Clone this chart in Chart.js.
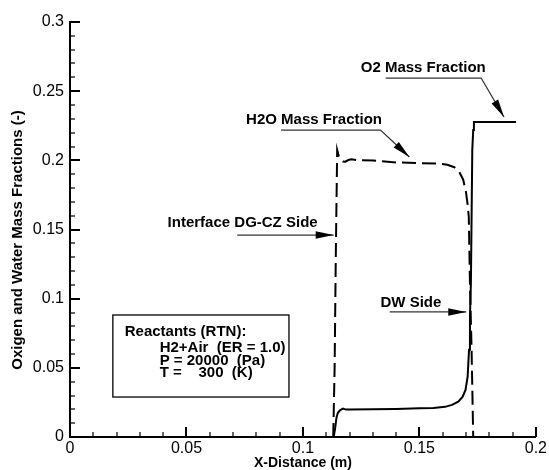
<!DOCTYPE html>
<html><head><meta charset="utf-8">
<script src="https://cdn.jsdelivr.net/npm/chart.js@4"></script>
<style>html,body{margin:0;padding:0;background:#fff}</style>
</head><body>
<canvas id="c" width="549" height="470"></canvas>
<script>
// ---- data ----
const xTickLabels = [0, 0.05, 0.1, 0.15, 0.2];
const yTickLabels = [0, 0.05, 0.1, 0.15, 0.2, 0.25, 0.3];

const o2X = [0.1132, 0.1138, 0.1144, 0.1150, 0.1160, 0.1172, 0.1185, 0.1200, 0.1300, 0.1400, 0.1500, 0.1560, 0.1610, 0.1640, 0.1667, 0.1685, 0.1698, 0.1707, 0.1713, 0.1717, 0.1721, 0.1724, 0.1727, 0.1731, 0.1734, 0.1800, 0.1915];
const o2Y = [0.0000, 0.0060, 0.0140, 0.0175, 0.0195, 0.0206, 0.0198, 0.0199, 0.0201, 0.0203, 0.0207, 0.0210, 0.0218, 0.0232, 0.0255, 0.0290, 0.0340, 0.0436, 0.0630, 0.0870, 0.1110, 0.1590, 0.2075, 0.2220, 0.2278, 0.2278, 0.2278];

const h2oX = [0.1130, 0.1136, 0.1141, 0.1147, 0.1154, 0.1163, 0.1172, 0.1182, 0.1195, 0.1208, 0.1232, 0.1303, 0.1400, 0.1500, 0.1580, 0.1620, 0.1650, 0.1670, 0.1688, 0.1700, 0.1707, 0.1712, 0.1717, 0.1724, 0.1731];
const h2oY = [0.0000, 0.0500, 0.1300, 0.2075, 0.2030, 0.2005, 0.1992, 0.1990, 0.2002, 0.2008, 0.2002, 0.1998, 0.1985, 0.1980, 0.1976, 0.1968, 0.1950, 0.1920, 0.1860, 0.1770, 0.1680, 0.1590, 0.1110, 0.0630, 0.0000];

const xTitle = 'X-Distance (m)';
const yTitle = 'Oxigen and Water Mass Fractions (-)';

const labelTexts = ['O2 Mass Fraction', 'H2O Mass Fraction', 'Interface DG-CZ Side', 'DW Side'];
const boxLines = ['Reactants (RTN):', 'H2+Air  (ER = 1.0)', 'P = 20000  (Pa)', 'T =    300  (K)'];

// ---- annotation placement (data units) ----
const labelPos = [[0.1248, 0.2667], [0.0756, 0.2292], [0.0419, 0.1547], [0.1333, 0.0969]];
const arrowPaths = [
  [[0.1355, 0.2595], [0.1765, 0.2595], [0.1863, 0.2313]],
  [[0.0906, 0.2219], [0.1333, 0.2219], [0.1457, 0.2024]],
  [[0.0718, 0.1460], [0.1132, 0.1460]],
  [[0.1372, 0.0904], [0.1701, 0.0904]]
];
const boxRect = {x0: 0.0184, x1: 0.0940, y0: 0.0882, y1: 0.0289};
const boxTextPos = [[0.0235, 0.0763], [0.0385, 0.0647], [0.0385, 0.0553], [0.0385, 0.0462]];
const yTitleCenter = 0.1424;

const FONT = "'Liberation Sans', Arial, sans-serif";

const pts = (xs, ys) => xs.map((x, i) => ({x, y: ys[i]}));

const inTicks = {
  id: 'inTicks',
  afterDraw(chart) {
    const {ctx, chartArea: a, scales: {x, y}} = chart;
    ctx.save();
    ctx.strokeStyle = '#000';
    for (let i = 1; i <= 20; i++) {
      const major = i % 5 === 0;
      const px = Math.round(x.getPixelForValue(i * 0.01));
      ctx.lineWidth = major ? 2 : 1.2;
      ctx.beginPath(); ctx.moveTo(px, a.bottom); ctx.lineTo(px, a.bottom - (major ? 10 : 5)); ctx.stroke();
    }
    for (let i = 1; i <= 30; i++) {
      const major = i % 5 === 0;
      const py = Math.round(y.getPixelForValue(i * 0.01));
      ctx.lineWidth = major ? 2 : 1.2;
      ctx.beginPath(); ctx.moveTo(a.left, py); ctx.lineTo(a.left + (major ? 10 : 5), py); ctx.stroke();
    }
    ctx.restore();
  }
};

function arrowHead(ctx, x1, y1, x2, y2) {
  const ang = Math.atan2(y2 - y1, x2 - x1), L = 18, W = 3.8;
  ctx.beginPath();
  ctx.moveTo(x2, y2);
  ctx.lineTo(x2 - L * Math.cos(ang) + W * Math.sin(ang), y2 - L * Math.sin(ang) - W * Math.cos(ang));
  ctx.lineTo(x2 - L * Math.cos(ang) - W * Math.sin(ang), y2 - L * Math.sin(ang) + W * Math.cos(ang));
  ctx.closePath(); ctx.fill();
}

const notes = {
  id: 'notes',
  afterDraw(chart) {
    const {ctx, chartArea: a, scales: {x, y}} = chart;
    const X = v => x.getPixelForValue(v), Y = v => y.getPixelForValue(v);
    ctx.save();
    ctx.fillStyle = '#000';
    ctx.textBaseline = 'middle';
    ctx.textAlign = 'left';
    ctx.font = 'bold 15px ' + FONT;
    labelTexts.forEach((t, i) => ctx.fillText(t, X(labelPos[i][0]), Y(labelPos[i][1])));
    ctx.strokeStyle = '#333';
    ctx.lineWidth = 1.3;
    arrowPaths.forEach(p => {
      ctx.beginPath();
      p.forEach((q, j) => j ? ctx.lineTo(X(q[0]), Y(q[1])) : ctx.moveTo(X(q[0]), Y(q[1])));
      ctx.stroke();
      const n = p.length;
      arrowHead(ctx, X(p[n - 2][0]), Y(p[n - 2][1]), X(p[n - 1][0]), Y(p[n - 1][1]));
    });
    ctx.strokeStyle = '#000';
    ctx.lineWidth = 1.3;
    ctx.strokeRect(X(boxRect.x0), Y(boxRect.y0), X(boxRect.x1) - X(boxRect.x0), Y(boxRect.y1) - Y(boxRect.y0));
    ctx.font = 'bold 15px ' + FONT;
    boxLines.forEach((t, i) => ctx.fillText(t, X(boxTextPos[i][0]), Y(boxTextPos[i][1])));
    // y-axis title
    ctx.save();
    ctx.translate(a.left - 52, Y(yTitleCenter));
    ctx.rotate(-Math.PI / 2);
    ctx.textAlign = 'center';
    ctx.font = 'bold 15px ' + FONT;
    ctx.fillText(yTitle, 0, 0);
    ctx.restore();
    ctx.restore();
  }
};

new Chart(document.getElementById('c'), {
  type: 'scatter',
  data: {
    datasets: [
      {label: 'O2', data: pts(o2X, o2Y), showLine: true, borderColor: '#000', borderWidth: 2, pointRadius: 0, tension: 0, fill: false},
      {label: 'H2O', data: pts(h2oX, h2oY), showLine: true, borderColor: '#000', borderWidth: 2, borderDash: [14, 6], pointRadius: 0, tension: 0, fill: false}
    ]
  },
  options: {
    responsive: false,
    animation: false,
    devicePixelRatio: 1,
    layout: {padding: {left: 0, top: 22, right: 11, bottom: 0}},
    plugins: {legend: {display: false}, tooltip: {enabled: false}},
    scales: {
      x: {
        type: 'linear', min: 0, max: 0.2,
        afterBuildTicks: s => { s.ticks = xTickLabels.map(v => ({value: v})); },
        afterFit: s => { s.height = 33; },
        grid: {display: false, drawTicks: false},
        border: {display: true, color: '#000', width: 2},
        ticks: {color: '#000', font: {family: FONT, size: 16}, padding: 2, maxRotation: 0, callback: v => String(v)},
        title: {display: true, text: xTitle, color: '#000', font: {family: FONT, size: 14, weight: 'bold'}, padding: {top: 0, bottom: -2}}
      },
      y: {
        type: 'linear', min: 0, max: 0.3,
        afterBuildTicks: s => { s.ticks = yTickLabels.map(v => ({value: v})); },
        afterFit: s => { s.width = 70; },
        grid: {display: false, drawTicks: false},
        border: {display: true, color: '#000', width: 2},
        ticks: {color: '#000', font: {family: FONT, size: 16}, padding: 6, callback: v => String(v)},
        title: {display: false}
      }
    }
  },
  plugins: [inTicks, notes]
});
</script>
</body></html>
